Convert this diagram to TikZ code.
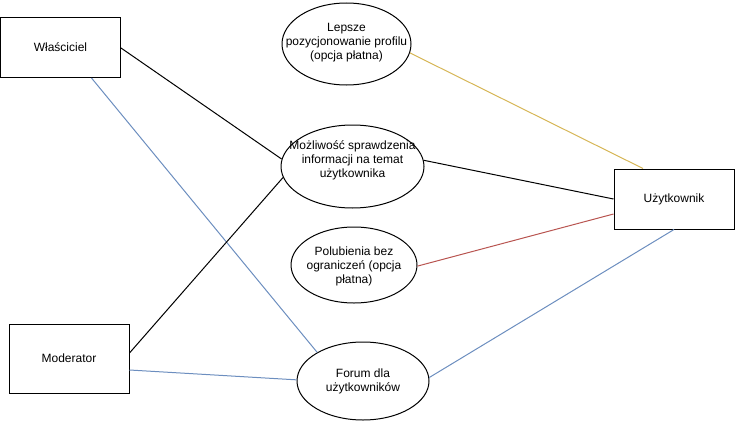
\documentclass[tikz,border=0pt]{standalone}
\usepackage{fontspec}
\setmainfont{Liberation Sans}
\usetikzlibrary{shapes.geometric,calc}
\definecolor{dioyellow}{HTML}{D6B656}
\definecolor{diored}{HTML}{B85450}
\definecolor{dioblue}{HTML}{6C8EBF}
\tikzset{
  actor/.style={draw=black, line width=0.75pt, fill=white, minimum width=90pt, inner sep=0pt, font=\fontsize{9}{10}\selectfont},
  usecase/.style={draw=black, line width=0.75pt, fill=white, ellipse, inner sep=0pt},
  uctext/.style={align=center, inner sep=0pt, font=\fontsize{9}{10.5}\selectfont},
  link/.style={line width=0.75pt}
}
\begin{document}
\begin{tikzpicture}[x=0.75pt,y=-0.75pt]
\useasboundingbox (0,0) rectangle (735,421);
\node[actor, minimum height=45pt] (w) at (60.5,47.5) {Właściciel};
\node[actor, minimum height=51.75pt] (mod) at (69,358.5) {Moderator};
\node[actor, minimum height=45pt] (u) at (674,199) {Użytkownik};
\node[usecase, minimum width=96.75pt, minimum height=61.5pt] (l) at (346.5,44) {};
\node[uctext] (lt) at (346.5,43) {Lepsze\\pozycjonowanie profilu\\(opcja płatna)};
\node[usecase, minimum width=107.25pt, minimum height=62.25pt] (m) at (352.5,166.5) {};
\node[uctext] (mt) at (352.5,160) {Możliwość sprawdzenia\\informacji na temat\\użytkownika};
\node[usecase, minimum width=94.5pt, minimum height=57pt] (p) at (354,265) {};
\node[uctext] (pt) at (354,266) {Polubienia bez\\ograniczeń (opcja\\płatna)};
\node[usecase, minimum width=99pt, minimum height=58.5pt] (f) at (363,381) {};
\node[uctext] (ft) at (363,381) {Forum dla\\użytkowników};
% connectors
\draw[link, black] ($(w.east)+(0,0.5)$) -- (m.174.8);
\draw[link, dioblue] ($(w.south)+(31,0)$) -- (f.148.3);
\draw[link, black] ($(mod.east)+(0,-5.5)$) -- (m.189.4);
\draw[link, dioblue] ($(mod.east)+(0,11.5)$) -- (f.179);
\draw[link, dioyellow] (l.352) -- ($(u.north)+(-31,0)$);
\draw[link, black] (m.5.2) -- (u.west);
\draw[link, diored] (p.359) -- ($(u.west)+(0,15)$);
\draw[link, dioblue] (f.3) -- (u.south);
\end{tikzpicture}
\end{document}
